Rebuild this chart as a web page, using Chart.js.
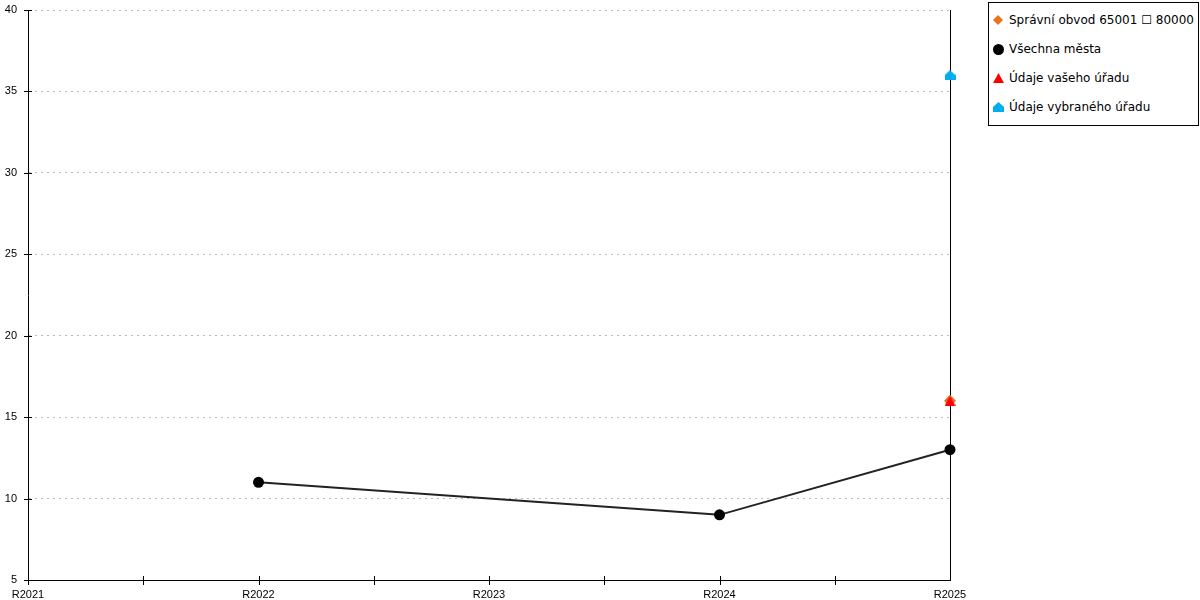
<!DOCTYPE html>
<html>
<head>
<meta charset="utf-8">
<script src="https://cdn.jsdelivr.net/npm/chart.js@4.4.1/dist/chart.umd.min.js"></script>
<style>
  html, body { margin: 0; padding: 0; background: #fff; }
  #wrap { position: relative; width: 1200px; height: 600px; }
  #legend {
    position: absolute; left: 988px; top: 2px; width: 209px; height: 122px;
    border: 1px solid #000; background: #fff;
    font: 12px 'DejaVu Sans', sans-serif; color: #000;
  }
  .item { position: absolute; left: 0; height: 16px; white-space: nowrap; }
  .item canvas { position: absolute; left: 3px; top: 2px; }
  .item span { position: absolute; left: 20px; top: 0; line-height: 16px; }
</style>
</head>
<body>
<div id="wrap">
  <canvas id="chart" width="1200" height="600"></canvas>
  <div id="legend"></div>
</div>
<script>
// data
const years = [2021, 2022, 2023, 2024, 2025];
const districtValues = [null, null, null, null, 16];
const allCities = [null, 11, null, 9, 13];
const yourOffice = [null, null, null, null, 16];
const selectedOffice = [null, null, null, null, 36];
const seriesNames = [
  'Správní obvod 65001 ☐ 80000',
  'Všechna města',
  'Údaje vašeho úřadu',
  'Údaje vybraného úřadu'
];
const yTicks = [5, 10, 15, 20, 25, 30, 35, 40];

const ORANGE = '#e8731a';
const RED = '#ff0000';
const BLUE = '#00aeef';

// little marker canvases (used as point styles and in the legend)
function makeMarker(kind, w, h, color) {
  const c = document.createElement('canvas');
  c.width = w; c.height = h;
  const g = c.getContext('2d');
  g.fillStyle = color;
  g.beginPath();
  if (kind === 'triangle') {
    g.moveTo(w / 2, 0);
    g.lineTo(w, h);
    g.lineTo(0, h);
  } else if (kind === 'house') {
    const roof = Math.round(h * 0.45);
    g.moveTo(w / 2, 0);
    g.lineTo(w, roof);
    g.lineTo(w, h);
    g.lineTo(0, h);
    g.lineTo(0, roof);
  } else if (kind === 'diamond') {
    g.moveTo(w / 2, 0);
    g.lineTo(w, h / 2);
    g.lineTo(w / 2, h);
    g.lineTo(0, h / 2);
  } else {
    g.arc(w / 2, h / 2, w / 2, 0, Math.PI * 2);
  }
  g.closePath();
  g.fill();
  return c;
}

const toPoints = (vals) => years.map((x, i) => ({ x, y: vals[i] }));

const crossTicks = {
  id: 'crossTicks',
  beforeDatasetsDraw(chart) {
    const { ctx, chartArea, scales } = chart;
    ctx.save();
    ctx.strokeStyle = '#000';
    ctx.lineWidth = 1;
    ctx.beginPath();
    scales.x.ticks.forEach((t) => {
      if (t.value >= 2025) return;
      const px = Math.round(scales.x.getPixelForValue(t.value)) + 0.5;
      ctx.moveTo(px, chartArea.bottom - 4);
      ctx.lineTo(px, chartArea.bottom + 5);
    });
    scales.y.ticks.forEach((t) => {
      const py = Math.round(scales.y.getPixelForValue(t.value)) + 0.5;
      ctx.moveTo(chartArea.left - 4, py);
      ctx.lineTo(chartArea.left + 4, py);
    });
    // right edge line at R2025
    const rx = Math.round(chartArea.right) + 0.5;
    ctx.moveTo(rx, chartArea.top);
    ctx.lineTo(rx, chartArea.bottom);
    ctx.stroke();
    ctx.restore();
  }
};

const tickFont = { family: "'Liberation Sans', sans-serif", size: 11 };

new Chart(document.getElementById('chart'), {
  type: 'line',
  data: {
    datasets: [
      {
        label: seriesNames[0],
        data: toPoints(districtValues),
        showLine: false,
        clip: false,
        pointStyle: 'rectRot',
        pointRadius: 6,
        pointHoverRadius: 6,
        backgroundColor: ORANGE,
        borderColor: ORANGE,
        borderWidth: 0,
        order: 4
      },
      {
        label: seriesNames[1],
        data: toPoints(allCities),
        spanGaps: true,
        clip: false,
        borderColor: '#222',
        borderWidth: 2,
        pointStyle: 'circle',
        pointRadius: 5.5,
        pointHoverRadius: 5.5,
        pointBackgroundColor: '#000',
        pointBorderColor: '#000',
        pointBorderWidth: 0,
        tension: 0,
        order: 3
      },
      {
        label: seriesNames[2],
        data: toPoints(yourOffice),
        showLine: false,
        clip: false,
        pointStyle: makeMarker('triangle', 11, 10, RED),
        pointRadius: 6,
        order: 2
      },
      {
        label: seriesNames[3],
        data: toPoints(selectedOffice),
        showLine: false,
        clip: false,
        pointStyle: makeMarker('house', 11, 10, BLUE),
        pointRadius: 6,
        order: 1
      }
    ]
  },
  options: {
    responsive: false,
    animation: false,
    layout: { padding: { top: 10, right: 250, left: 0, bottom: 0 } },
    plugins: {
      legend: { display: false },
      tooltip: { enabled: false }
    },
    scales: {
      x: {
        type: 'linear',
        min: 2021,
        max: 2025,
        afterFit: (s) => { s.height = 20; s.paddingLeft = 0; s.paddingRight = 0; },
        ticks: {
          stepSize: 0.5,
          autoSkip: false,
          maxRotation: 0,
          padding: 8,
          color: '#000',
          font: tickFont,
          callback: (v) => Number.isInteger(v) ? 'R' + v : ''
        },
        grid: { display: false, drawTicks: false },
        border: { display: true, color: '#000', width: 1 }
      },
      y: {
        min: 5,
        max: 40,
        afterFit: (s) => { s.width = 28; s.paddingTop = 0; s.paddingBottom = 0; },
        afterBuildTicks: (s) => { s.ticks = yTicks.map((v) => ({ value: v })); },
        ticks: {
          padding: 11,
          color: '#000',
          font: tickFont
        },
        grid: { color: '#bbbbbb', lineWidth: 1, drawTicks: false },
        border: { display: true, color: '#000', width: 1, dash: [2, 4] }
      }
    }
  },
  plugins: [crossTicks]
});

// HTML legend
const legendMarkers = [
  makeMarker('diamond', 10, 10, ORANGE),
  makeMarker('circle', 11, 11, '#000'),
  makeMarker('triangle', 11, 10, RED),
  makeMarker('house', 11, 10, BLUE)
];
const legendEl = document.getElementById('legend');
seriesNames.forEach((name, i) => {
  const row = document.createElement('div');
  row.className = 'item';
  row.style.top = (9 + i * 29) + 'px';
  const m = legendMarkers[i];
  m.style.top = (8 - m.height / 2) + 'px';
  m.style.left = (9 - m.width / 2) + 'px';
  row.appendChild(m);
  const t = document.createElement('span');
  t.textContent = name;
  row.appendChild(t);
  legendEl.appendChild(row);
});
</script>
</body>
</html>
